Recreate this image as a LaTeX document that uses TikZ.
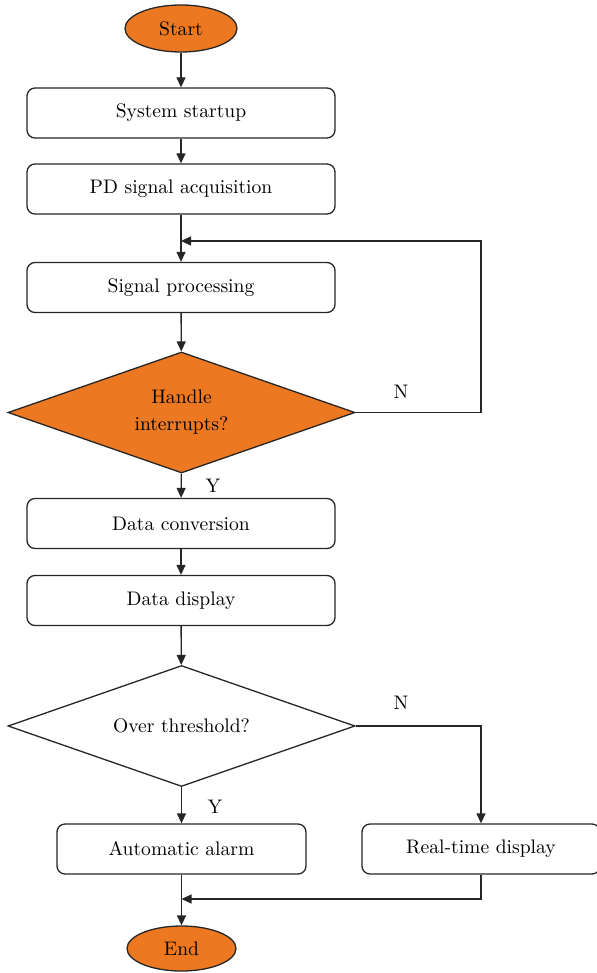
\documentclass[tikz,border=0pt]{standalone}
\usetikzlibrary{arrows.meta,shapes.geometric}
\definecolor{flowOrange}{RGB}{236,121,34}

\begin{document}
\begin{tikzpicture}[x=0.5pt,y=-0.5pt,
  every node/.style={font=\fontsize{9.8}{13.5}\selectfont},
  procbox/.style={draw=black!85, line width=0.65pt, rounded corners=4pt, minimum width=154pt, minimum height=25pt, inner sep=0pt},
  termbox/.style={draw=black!85, line width=0.65pt, ellipse, fill=flowOrange, inner sep=0pt},
  decbox/.style={draw=black!85, line width=0.65pt, diamond, shape aspect=2.87, inner sep=0pt, minimum width=173.5pt, minimum height=60.5pt, align=center},
  flowline/.style={draw=black!85, line width=0.65pt, -{Triangle[length=5pt,width=4.5pt]}}]
\useasboundingbox (0,0) rectangle (596,973);
% terminals and steps
\node[termbox, minimum width=56pt, minimum height=23.5pt] (start) at (181,28.5) {Start};
\node[procbox] (sys) at (181,113) {System startup};
\node[procbox] (pd) at (181,189) {PD signal acquisition};
\node[procbox] (sig) at (181,287.5) {Signal processing};
\node[decbox, fill=flowOrange] (hand) at (181.5,412.5) {Handle\\interrupts?};
\node[procbox] (conv) at (181,523.5) {Data conversion};
\node[procbox] (disp) at (181,600.5) {Data display};
\node[decbox] (over) at (181.5,726) {Over threshold?};
\node[procbox, minimum width=124.5pt] (alarm) at (181.5,849) {Automatic alarm};
\node[procbox, minimum width=119pt] (rt) at (481,849) {Real-time display};
\node[termbox, minimum width=54.5pt, minimum height=22.5pt] (end) at (181.5,948.5) {End};
% branch labels
\node (nhand) at (401,392) {N};
\node (yhand) at (213,486) {Y};
\node (nover) at (401,703) {N};
\node (yover) at (215,807) {Y};
% connectors
\coordinate (loopturn) at (481,241);
\coordinate (loopin) at (181,241);
\coordinate (mergein) at (181.5,899);
\draw[flowline] (start) -- (sys);
\draw[flowline] (sys) -- (pd);
\draw[flowline] (pd) -- (sig);
\draw[flowline] (sig) -- (hand);
\draw[flowline] (hand.east) -| (loopturn) -- (loopin);
\draw[flowline] (hand) -- (conv);
\draw[flowline] (conv) -- (disp);
\draw[flowline] (disp) -- (over);
\draw[flowline] (over) -- (alarm);
\draw[flowline] (over.east) -| (rt.north);
\draw[flowline] (rt.south) |- (mergein);
\draw[flowline] (alarm) -- (end);
\end{tikzpicture}
\end{document}
